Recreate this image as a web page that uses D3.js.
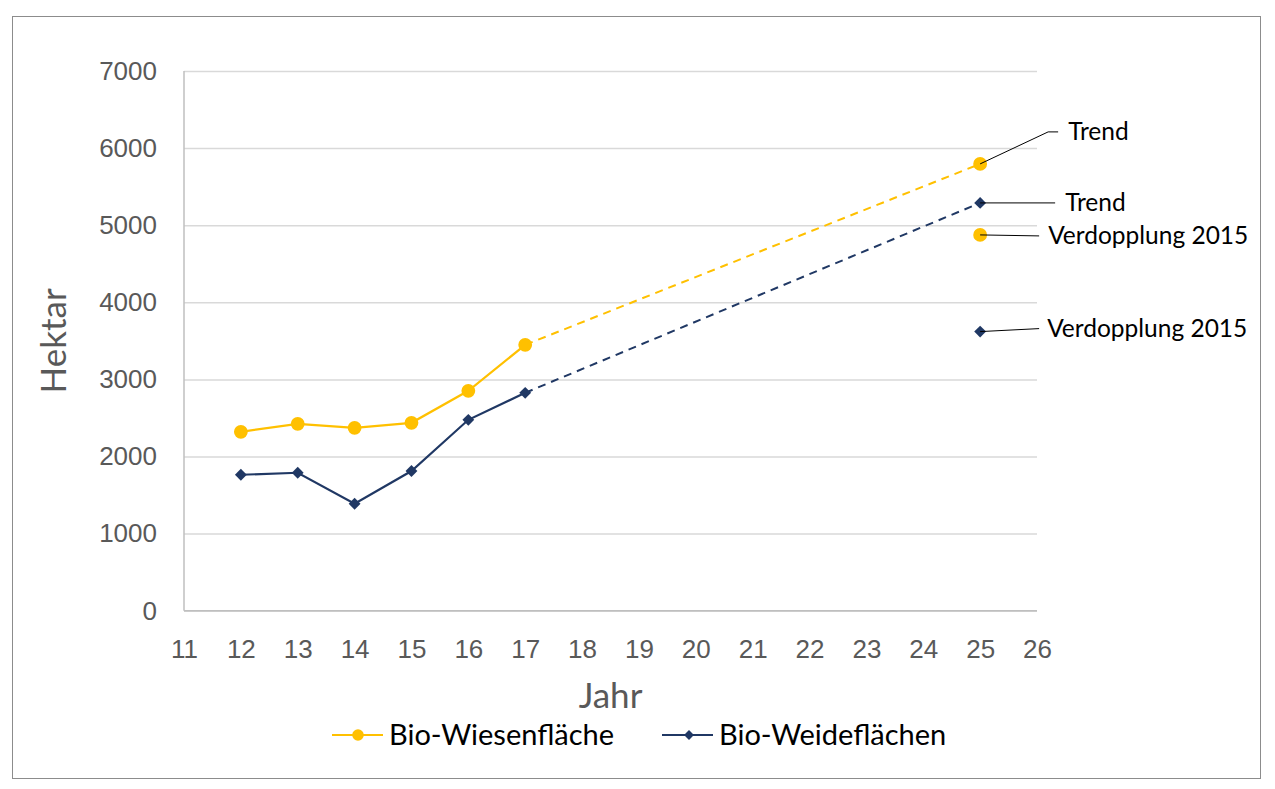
<!DOCTYPE html>
<html>
<head>
<meta charset="utf-8">
<script src="https://cdn.jsdelivr.net/npm/d3@7"></script>
<style>
  body { margin: 0; background: #fff; }
  svg { font-family: Lato, "Open Sans", sans-serif; }
  .tick-label { fill: #595959; font-size: 26px; }
  .axis-title { fill: #595959; font-size: 35px; }
  .note { fill: #000; font-size: 24.5px; }
  .legend-label { fill: #000; font-size: 29px; }
</style>
</head>
<body>
<svg width="1275" height="789"></svg>
<script>
// data
var years = [12, 13, 14, 15, 16, 17];
var wiesen = [2320, 2424, 2372, 2437, 2852, 3448];
var weide = [1763, 1789, 1387, 1812, 2476, 2826];
var targetYear = 25;
var wiesenTrend = 5795;
var weideTrend = 5289;
var wiesenDouble = 4874;
var weideDouble = 3620;
var xTicks = d3.range(11, 27);
var yTicks = [0, 1000, 2000, 3000, 4000, 5000, 6000, 7000];
var seriesNames = ['Bio-Wiesenfläche', 'Bio-Weideflächen'];
var colors = ['#FFC000', '#203864'];

var svg = d3.select('svg');

// outer frame
svg.append('rect')
    .attr('x', 12.5).attr('y', 16.5)
    .attr('width', 1248).attr('height', 762)
    .attr('fill', 'none')
    .attr('stroke', '#8c8c8c');

var plot = {l: 184, r: 1037, t: 71, b: 610.7};

var xScale = d3.scaleLinear().domain([11, 26]).range([plot.l, plot.r]);
var yScale = d3.scaleLinear().domain([0, 7000]).range([plot.b, plot.t]);

// horizontal grid
svg.append('g')
    .attr('class', 'y grid')
    .attr('transform', 'translate(' + plot.l + ',0)')
    .call(d3.axisLeft(yScale).tickValues(yTicks).tickSize(-(plot.r - plot.l)).tickFormat(''))
    .call(function(g) {
        g.select('.domain').remove();
        g.selectAll('.tick line').attr('stroke', '#d9d9d9').attr('stroke-width', 1.5);
    });

// axis lines
svg.append('line')
    .attr('x1', plot.l).attr('x2', plot.l)
    .attr('y1', plot.t).attr('y2', plot.b)
    .attr('stroke', '#bfbfbf').attr('stroke-width', 1.5);
svg.append('line')
    .attr('x1', plot.l).attr('x2', plot.r)
    .attr('y1', plot.b).attr('y2', plot.b)
    .attr('stroke', '#bfbfbf').attr('stroke-width', 1.5);

// tick labels
var yAxis = d3.axisLeft(yScale).tickValues(yTicks).tickSize(0).tickPadding(27).tickFormat(d3.format('d'));
svg.append('g')
    .attr('transform', 'translate(' + plot.l + ',0)')
    .call(yAxis)
    .call(function(g) {
        g.select('.domain').remove();
        g.selectAll('text').attr('class', 'tick-label').attr('font-size', null).attr('font-family', null).attr('fill', null);
    });

var xAxis = d3.axisBottom(xScale).tickValues(xTicks).tickSize(0).tickPadding(29).tickFormat(d3.format('d'));
svg.append('g')
    .attr('transform', 'translate(0,' + plot.b + ')')
    .call(xAxis)
    .call(function(g) {
        g.select('.domain').remove();
        g.selectAll('text').attr('class', 'tick-label').attr('font-size', null).attr('font-family', null).attr('fill', null);
    });

// axis titles
svg.append('text')
    .attr('class', 'axis-title')
    .attr('text-anchor', 'middle')
    .attr('transform', 'translate(' + [(plot.l + plot.r) / 2, 708] + ')')
    .text('Jahr');
svg.append('text')
    .attr('class', 'axis-title')
    .attr('text-anchor', 'middle')
    .attr('transform', 'translate(' + [66, (plot.t + plot.b) / 2] + ') rotate(-90)')
    .text('Hektar');

var line = d3.line()
    .x(function(d) { return xScale(d[0]); })
    .y(function(d) { return yScale(d[1]); });

// square rotated 45deg gives the diamond marker
var series = [
    {name: seriesNames[0], values: wiesen, trend: wiesenTrend, dbl: wiesenDouble, color: colors[0], symbol: d3.symbolCircle, size: 150, rot: 0},
    {name: seriesNames[1], values: weide, trend: weideTrend, dbl: weideDouble, color: colors[1], symbol: d3.symbolSquare, size: 70, rot: 45}
];

series.forEach(function(s) {
    var pts = years.map(function(y, i) { return [y, s.values[i]]; });
    var last = pts[pts.length - 1];

    // dashed trend
    svg.append('path')
        .datum([last, [targetYear, s.trend]])
        .attr('d', line)
        .attr('fill', 'none')
        .attr('stroke', s.color)
        .attr('stroke-width', 2)
        .attr('stroke-dasharray', '8,6');

    svg.append('path')
        .datum(pts)
        .attr('d', line)
        .attr('fill', 'none')
        .attr('stroke', s.color)
        .attr('stroke-width', 2.2);

    var markers = pts.concat([[targetYear, s.trend], [targetYear, s.dbl]]);
    svg.selectAll(null)
        .data(markers)
        .enter()
        .append('path')
        .attr('d', d3.symbol().type(s.symbol).size(s.size))
        .attr('fill', s.color)
        .attr('transform', function(d) {
            return 'translate(' + [xScale(d[0]), yScale(d[1])] + ') rotate(' + s.rot + ')';
        });
});

// annotation callouts: leader line offsets and text offset from the marker
var notes = [
    {v: wiesenTrend, label: 'Trend', path: [[68, -32], [78, -32]], tx: 88, ty: -32},
    {v: weideTrend, label: 'Trend', path: [[75, 0]], tx: 85, ty: 0},
    {v: wiesenDouble, label: 'Verdopplung 2015', path: [[59, 1]], tx: 68, ty: 1},
    {v: weideDouble, label: 'Verdopplung 2015', path: [[59, -3]], tx: 67, ty: -3}
];

notes.forEach(function(n) {
    var x0 = xScale(targetYear), y0 = yScale(n.v);
    var p = [[x0, y0]].concat(n.path.map(function(o) { return [x0 + o[0], y0 + o[1]]; }));
    svg.append('path')
        .attr('d', d3.line()(p))
        .attr('fill', 'none')
        .attr('stroke', '#000')
        .attr('stroke-width', 1);
    svg.append('text')
        .attr('class', 'note')
        .attr('x', x0 + n.tx)
        .attr('y', y0 + n.ty)
        .attr('dy', '0.35em')
        .text(n.label);
});

// legend
var legendY = 735;
var legendX = [332, 662];
series.forEach(function(s, i) {
    var g = svg.append('g').attr('transform', 'translate(' + [legendX[i], legendY] + ')');
    g.append('line')
        .attr('x1', 0).attr('x2', 51)
        .attr('stroke', s.color).attr('stroke-width', 2.2);
    g.append('path')
        .attr('d', d3.symbol().type(s.symbol).size(s.size * 0.7))
        .attr('fill', s.color)
        .attr('transform', 'translate(' + (i === 0 ? 26 : 27) + ',0) rotate(' + s.rot + ')');
    g.append('text')
        .attr('class', 'legend-label')
        .attr('x', 57)
        .attr('dy', '0.35em')
        .text(s.name);
});
</script>
</body>
</html>
